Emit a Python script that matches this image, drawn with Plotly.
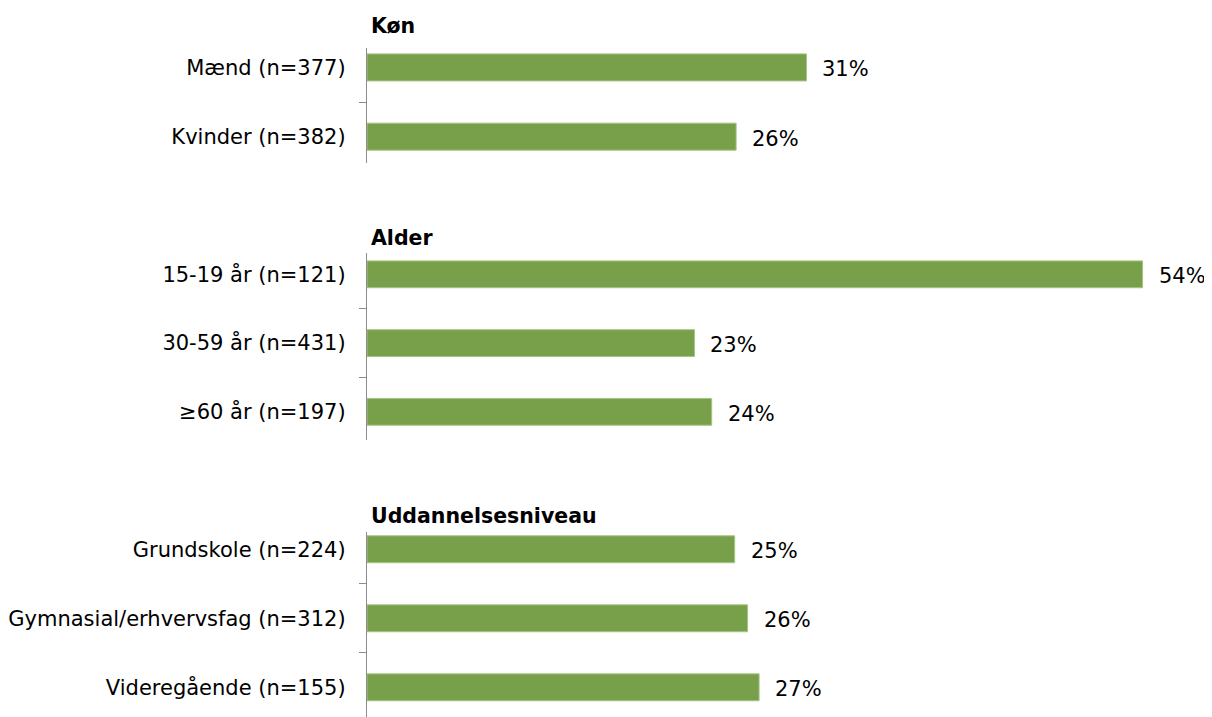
import plotly.graph_objects as go

# ---- data ----
groups = ["Køn", "Alder", "Uddannelsesniveau"]
cats_kon = ["Mænd (n=377)", "Kvinder (n=382)"]
vals_kon = [30.6, 25.7]
labels_kon = ["31%", "26%"]

cats_alder = ["15-19 år (n=121)", "30-59 år (n=431)", "≥60 år (n=197)"]
vals_alder = [54.0, 22.8, 24.0]
labels_alder = ["54%", "23%", "24%"]

cats_udd = ["Grundskole (n=224)", "Gymnasial/erhvervsfag (n=312)", "Videregående (n=155)"]
vals_udd = [25.6, 26.5, 27.3]
labels_udd = ["25%", "26%", "27%"]

# ---- styling ----
OFF = 8  # browser body margin
W, H = 1212 - OFF, 717 - OFF
BAR = "#78A04B"
EDGE = "#A6C483"
AXC = "#8C8C8C"
FONT = "DejaVu Sans"

def dom(top_px, bot_px):
    t, b = top_px - OFF, bot_px - OFF
    return [max(0, 1 - b / H), 1 - t / H]

panels = [
    (cats_kon, vals_kon, labels_kon, "y", dom(48, 163), [1.38, -0.28], 26),
    (cats_alder, vals_alder, labels_alder, "y2", dom(253, 440), [2.41, -0.31], 238),
    (cats_udd, vals_udd, labels_udd, "y3", dom(532, 717), [2.43, -0.25], 516),
]

fig = go.Figure()
annotations = []
for (cats, vals, labs, yname, domain, rng, head_px), g in zip(panels, groups):
    fig.add_trace(go.Bar(
        x=vals, y=cats, orientation="h", yaxis=yname, xaxis="x",
        width=0.39, marker=dict(color=BAR, line=dict(color=EDGE, width=1)),
        hoverinfo="skip", showlegend=False,
    ))
    for c, v, l in zip(cats, vals, labs):
        annotations.append(dict(
            x=v, y=c, xref="x", yref=yname, text=l, showarrow=False,
            xanchor="left", yanchor="middle", xshift=14, yshift=-2,
            font=dict(family=FONT, size=21, color="black"),
        ))
    annotations.append(dict(
        x=0, y=1 - (head_px - OFF) / H, xref="paper", yref="paper", text="<b>%s</b>" % g,
        showarrow=False, xanchor="left", yanchor="middle", xshift=2,
        font=dict(family=FONT, size=20.5, color="black"),
    ))
    key = "yaxis" if yname == "y" else "yaxis" + yname[1:]
    fig.layout[key] = dict(
        domain=domain, range=rng, type="category", anchor="x",
        showline=True, linecolor=AXC, linewidth=1.3,
        ticks="outside", tickson="boundaries", ticklen=7, tickcolor=AXC, tickwidth=1.3,
        showgrid=False, zeroline=False, ticklabelstandoff=16,
        tickfont=dict(family=FONT, size=21, color="black"),
        fixedrange=True,
    )

fig.update_layout(
    width=W, height=H,
    margin=dict(l=365 - OFF, r=12, t=0, b=0),
    paper_bgcolor="white", plot_bgcolor="white",
    xaxis=dict(range=[0, 58], visible=False, fixedrange=True),
    annotations=annotations,
    bargap=0.6,
)

fig.write_html("out.html")
